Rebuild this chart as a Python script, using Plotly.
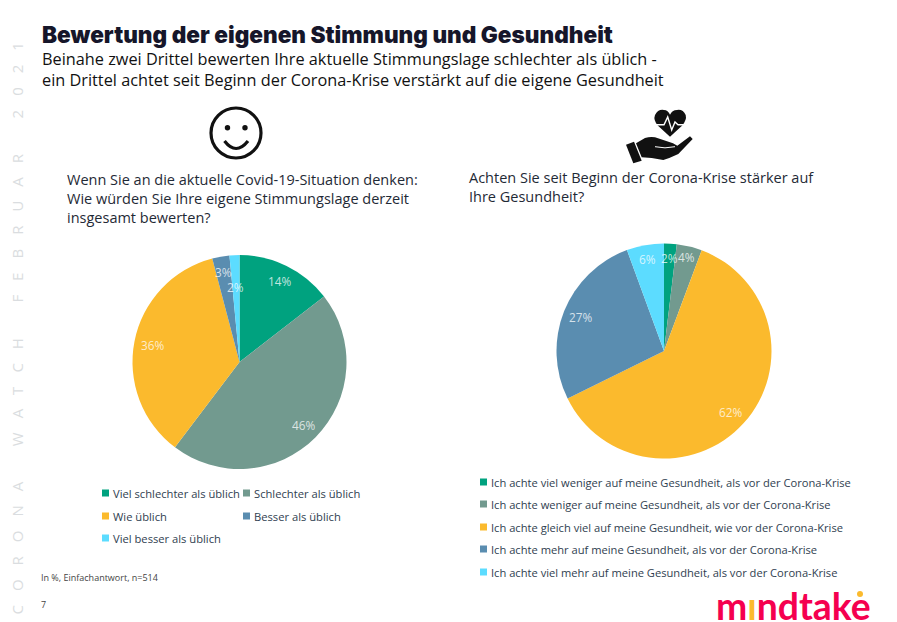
import math
import plotly.graph_objects as go

W, H = 897, 622

# colours shared by both pies
colors = ["#00A27F", "#729A8F", "#FBBA2D", "#5A8DB0", "#5CDCFF"]

# left pie
mood_labels = ["Viel schlechter als üblich", "Schlechter als üblich", "Wie üblich", "Besser als üblich", "Viel besser als üblich"]
mood_values = [14.5, 45.8, 35.6, 2.6, 1.5]
mood_text = ["14%", "46%", "36%", "3%", "2%"]
mood_text_r = [0.84, 0.84, 0.83, 0.85, 0.70]

# right pie
health_labels = [
    "Ich achte viel weniger auf meine Gesundheit, als vor der Corona-Krise",
    "Ich achte weniger auf meine Gesundheit, als vor der Corona-Krise",
    "Ich achte gleich viel auf meine Gesundheit, wie vor der Corona-Krise",
    "Ich achte mehr auf meine Gesundheit, als vor der Corona-Krise",
    "Ich achte viel mehr auf meine Gesundheit, als vor der Corona-Krise",
]
health_values = [1.9, 3.8, 62.0, 26.7, 5.6]
health_text = ["2%", "4%", "62%", "27%", "6%"]
health_text_r = [0.87, 0.90, 0.84, 0.84, 0.87]


def px(x):
    return x / W


def py(y):
    return 1 - y / H


def text(x, y, s, size, color="#1F2A36", anchor="left", family="Open Sans", angle=0, weight=None):
    font = dict(size=size, color=color, family=family)
    if weight:
        font["weight"] = weight
    fig.add_annotation(x=px(x), y=py(y), xref="paper", yref="paper", text=s, showarrow=False,
                       xanchor=anchor, yanchor="middle", align="left", textangle=angle,
                       font=font, borderpad=0, borderwidth=0)


def add_pie(values, labels, cx, cy, r):
    fig.add_trace(go.Pie(values=values, labels=labels, sort=False, direction="clockwise", rotation=0,
                         textinfo="none", marker=dict(colors=colors, line=dict(width=0)),
                         domain=dict(x=[px(cx - r), px(cx + r)], y=[py(cy + r), py(cy - r)]),
                         showlegend=False))


def pie_labels(values, shown, factors, cx, cy, r):
    total = sum(values)
    start = 0
    for v, s, f in zip(values, shown, factors):
        mid = (start + v / 2) / total * 2 * math.pi
        start += v
        text(cx + f * r * math.sin(mid), cy - f * r * math.cos(mid), s, 11.8, "rgba(255,255,255,0.75)", "center")


def swatch(x, y, color):
    fig.add_shape(type="rect", xref="paper", yref="paper", x0=px(x), x1=px(x + 7), y0=py(y + 3.5), y1=py(y - 3.5),
                  fillcolor=color, line_width=0)


def icon_path(d):
    parts = d.split()
    out, i = [], 0
    while i < len(parts):
        p = parts[i]
        if p.isalpha():
            out.append(p)
            i += 1
        else:
            out += [str(px(float(p))), str(py(float(parts[i + 1])))]
            i += 2
    return " ".join(out)


fig = go.Figure()
add_pie(mood_values, mood_labels, 239.5, 362, 107)
add_pie(health_values, health_labels, 664, 351, 107.5)
pie_labels(mood_values, mood_text, mood_text_r, 239.5, 362, 107)
pie_labels(health_values, health_text, health_text_r, 664, 351, 107.5)

# headline
text(42, 34, "Bewertung der eigenen Stimmung und Gesundheit", 22.6, "#16162A", family="Inter", weight=900)
text(42, 69.5, "Beinahe zwei Drittel bewerten Ihre aktuelle Stimmungslage schlechter als üblich -<br>"
     "ein Drittel achtet seit Beginn der Corona-Krise verstärkt auf die eigene Gesundheit", 16.3, "#111111")

# questions
text(67, 198.5, "Wenn Sie an die aktuelle Covid-19-Situation denken:<br>"
     "Wie würden Sie Ihre eigene Stimmungslage derzeit<br>insgesamt bewerten?", 14.5)
text(469, 186.5, "Achten Sie seit Beginn der Corona-Krise stärker auf<br>Ihre Gesundheit?", 14.5)

# left legend, two columns
mood_pos = [(102, 493), (243, 493), (102, 516), (243, 516), (102, 538)]
for (x, y), c, s in zip(mood_pos, colors, mood_labels):
    swatch(x, y, c)
    text(x + 11, y, s, 11.2, "#2F3E50")

# right legend
for y, c, s in zip([482, 504, 527, 549, 572], colors, health_labels):
    swatch(480, y, c)
    text(491, y, s, 11.15, "#2F3E50")

text(41, 577, "In %, Einfachantwort, n=514", 9, "#444444")
text(41, 604, "7", 9, "#444444")

# side text, wide letter spacing
gap = "\u2002\u2004\u200a"
side = (gap * 2 + "\u2002").join(gap.join(w) for w in ["CORONA", "WATCH", "FEBRUAR", "2021"])
text(16, 328.5, side, 15, "#DADDE0", "center", "Open Sans", -90)

# smiley
ink = "#111111"
fig.add_shape(type="circle", xref="paper", yref="paper", x0=px(211), x1=px(261), y0=py(158), y1=py(108),
              line=dict(color=ink, width=3.2))
for ex in (227.5, 245):
    fig.add_shape(type="circle", xref="paper", yref="paper", x0=px(ex - 2.7), x1=px(ex + 2.7), y0=py(130.5), y1=py(125),
                  fillcolor=ink, line_width=0)
fig.add_shape(type="path", xref="paper", yref="paper",
              path=icon_path("M 224.5 141 Q 236 156 248 141"),
              line=dict(color=ink, width=3.2))

# heart + hand icon
heart = ("M 670 136.7 L 658 125.7 Q 653 120 655 115 Q 658 109 664 110 Q 668 110 670 114.7 "
         "Q 672 110 677 110 Q 683 109 685.7 115 Q 687 120 682 125.7 Z")
hand = ("M 636 143.3 L 645 138 Q 650 136.5 655 137.3 L 673 143.3 L 677.3 145.7 L 690 136.3 L 692.7 139 "
        "L 678.3 154 Q 670 158 663.3 160 L 651.7 158 L 641.7 157.3 Z")
cuff = "M 626 144.7 L 634 141.7 L 641.7 160.7 L 633.3 163.3 Z"
for d in (heart, hand, cuff):
    fig.add_shape(type="path", xref="paper", yref="paper", path=icon_path(d), fillcolor=ink, line_width=0)
fig.add_shape(type="path", xref="paper", yref="paper",
              path=icon_path("M 654 124.7 L 664 124.7 L 667.7 117 L 671.7 130 L 675 122 L 678 124.7 L 687 124.7"),
              line=dict(color="#FFFFFF", width=1.4))
fig.add_shape(type="path", xref="paper", yref="paper",
              path=icon_path("M 655 146.7 Q 665 149 675 146.7"),
              line=dict(color="#FFFFFF", width=1))

# logo
pink = "#F5004F"
text(716, 605, "<b>m<span style='color:#FBBA2D'>ı</span>ndtake</b>", 37.3, pink, family="Lato")
fig.add_shape(type="circle", xref="paper", yref="paper", x0=px(857), x1=px(863), y0=py(597), y1=py(591),
              fillcolor="#FBBA2D", line_width=0)

fig.update_layout(width=W, height=H, margin=dict(l=0, r=0, t=0, b=0), paper_bgcolor="white", plot_bgcolor="white")
fig.write_html("out.html", config=dict(displayModeBar=False), post_script="document.body.style.margin='0';")
